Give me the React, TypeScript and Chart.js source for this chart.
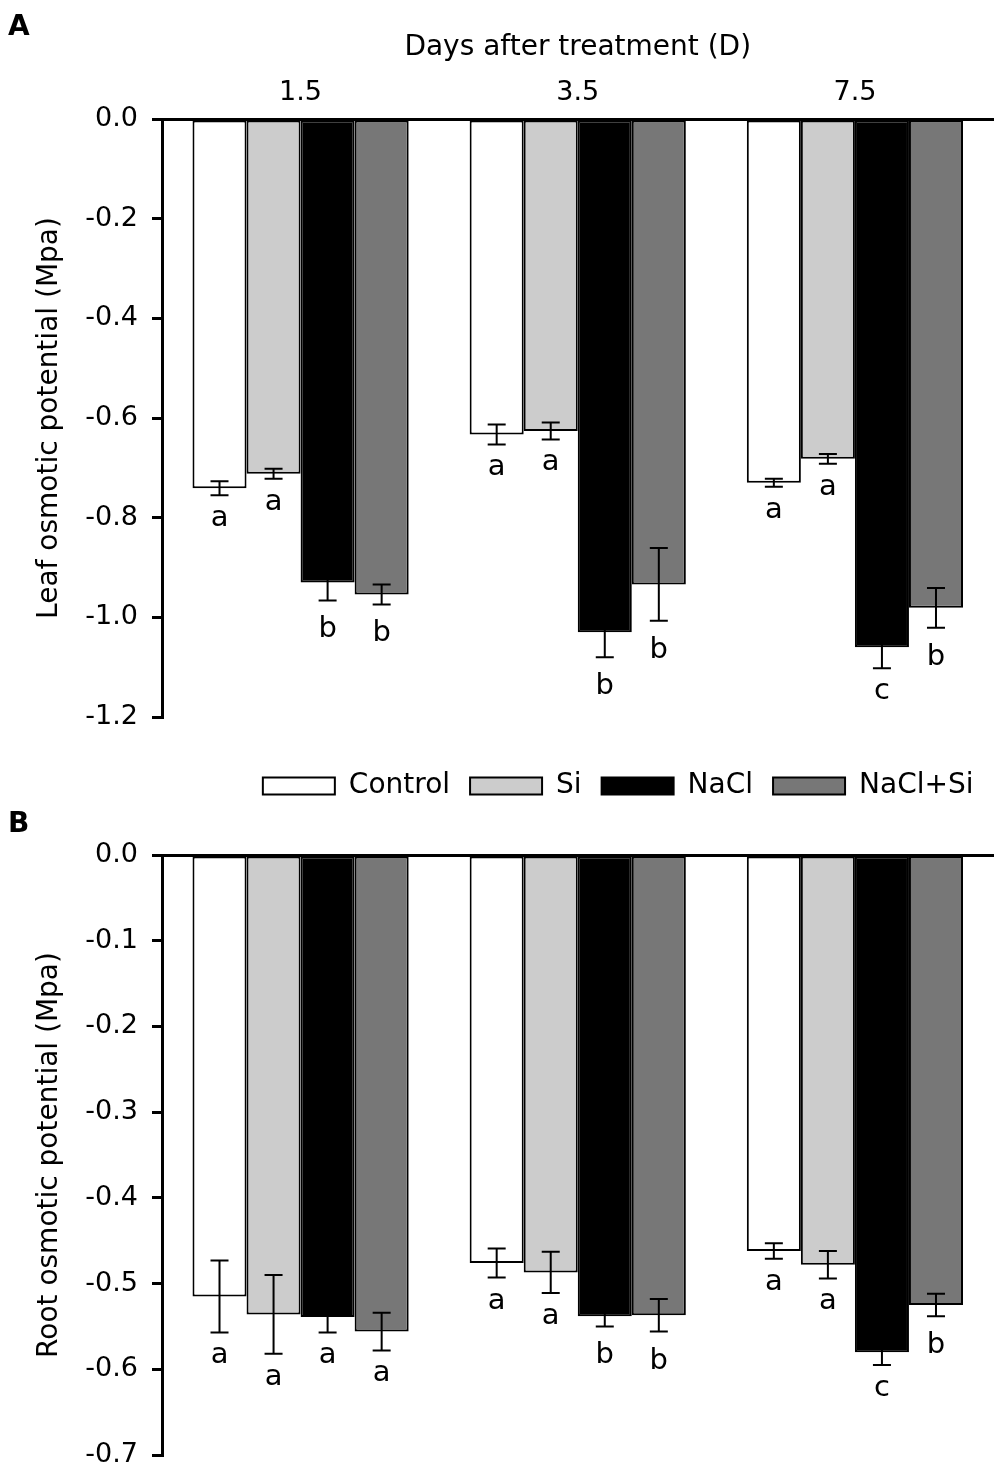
import React, { useEffect, useRef } from "react";
import { Chart, registerables } from "chart.js";

Chart.register(...registerables);

const days = ["1.5", "3.5", "7.5"];
const treatments = ["Control", "Si", "NaCl", "NaCl+Si"];
const fills = ["#ffffff", "#cccccc", "#000000", "#777777"];

// panel A - leaf osmotic potential (MPa)
const leafControl = [-0.741, -0.633, -0.73];
const leafSi = [-0.712, -0.626, -0.682];
const leafNaCl = [-0.93, -1.03, -1.06];
const leafNaClSi = [-0.954, -0.934, -0.981];
const leafControlErr = [0.014, 0.02, 0.008];
const leafSiErr = [0.01, 0.017, 0.01];
const leafNaClErr = [0.036, 0.05, 0.042];
const leafNaClSiErr = [0.02, 0.073, 0.04];
const leafControlSig = ["a", "a", "a"];
const leafSiSig = ["a", "a", "a"];
const leafNaClSig = ["b", "b", "c"];
const leafNaClSiSig = ["b", "b", "b"];

// panel B - root osmotic potential (MPa)
const rootControl = [-0.515, -0.476, -0.462];
const rootSi = [-0.536, -0.487, -0.478];
const rootNaCl = [-0.539, -0.538, -0.58];
const rootNaClSi = [-0.556, -0.537, -0.525];
const rootControlErr = [0.042, 0.017, 0.009];
const rootSiErr = [0.046, 0.024, 0.016];
const rootNaClErr = [0.018, 0.012, 0.015];
const rootNaClSiErr = [0.022, 0.019, 0.013];
const rootControlSig = ["a", "a", "a"];
const rootSiSig = ["a", "a", "a"];
const rootNaClSig = ["a", "b", "c"];
const rootNaClSiSig = ["a", "b", "b"];

const leafTicks = [0, -0.2, -0.4, -0.6, -0.8, -1.0, -1.2];
const rootTicks = [0, -0.1, -0.2, -0.3, -0.4, -0.5, -0.6, -0.7];

const FONT = "'DejaVu Sans', sans-serif";

const errorPlugin = (errors: number[][], letters: string[][]) => ({
  id: "errorLetters",
  afterDatasetsDraw(chart: any) {
    const ctx = chart.ctx;
    const yScale = chart.scales.y;
    ctx.save();
    ctx.strokeStyle = "#000";
    ctx.fillStyle = "#000";
    ctx.lineWidth = 2;
    ctx.font = `29px ${FONT}`;
    ctx.textAlign = "center";
    ctx.textBaseline = "alphabetic";
    chart.data.datasets.forEach((ds: any, di: number) => {
      const meta = chart.getDatasetMeta(di);
      meta.data.forEach((bar: any, i: number) => {
        const v = ds.data[i] as number;
        const e = errors[di][i];
        const x = bar.x;
        const yHi = yScale.getPixelForValue(v + e);
        const yLo = yScale.getPixelForValue(v - e);
        ctx.beginPath();
        ctx.moveTo(x, yHi);
        ctx.lineTo(x, yLo);
        ctx.moveTo(x - 9, yHi);
        ctx.lineTo(x + 9, yHi);
        ctx.moveTo(x - 9, yLo);
        ctx.lineTo(x + 9, yLo);
        ctx.stroke();
        const t = letters[di][i];
        const m = ctx.measureText(t);
        ctx.fillText(t, x, yLo + 15 + m.actualBoundingBoxAscent);
      });
    });
    ctx.restore();
  },
});

const panelLabel = (text: string, baseline: number) => ({
  id: "panelLabel",
  afterDraw(chart: any) {
    const ctx = chart.ctx;
    ctx.save();
    ctx.fillStyle = "#000";
    ctx.font = `bold 28px ${FONT}`;
    ctx.textAlign = "left";
    ctx.textBaseline = "alphabetic";
    ctx.fillText(text, 8, baseline);
    ctx.restore();
  },
});

const makeDatasets = (series: number[][]) =>
  treatments.map((t, k) => ({
    label: t,
    data: series[k],
    backgroundColor: fills[k],
    borderColor: "#000",
    borderWidth: 2,
    borderSkipped: false as const,
    categoryPercentage: 0.78,
    barPercentage: 1,
  }));

const yAxis = (min: number, ticks: number[], title: string) => ({
  min,
  max: 0,
  afterBuildTicks: (s: any) => {
    s.ticks = ticks.map((v) => ({ value: v }));
  },
  afterFit: (s: any) => {
    s.width = 162;
    s.paddingTop = 0;
    s.paddingBottom = 0;
  },
  ticks: {
    color: "#000",
    font: { family: FONT, size: 27 },
    padding: 14,
    callback: (v: any) => Number(v).toFixed(1),
  },
  grid: { drawOnChartArea: false, color: "#000", lineWidth: 3, tickLength: 10 },
  border: { display: true, color: "#000", width: 3 },
  title: {
    display: true,
    text: title,
    color: "#000",
    font: { family: FONT, size: 28 },
    padding: { top: 33, bottom: 0 },
  },
});

const App: React.FC = () => {
  const leafRef = useRef<HTMLCanvasElement | null>(null);
  const rootRef = useRef<HTMLCanvasElement | null>(null);

  useEffect(() => {
    if (!leafRef.current || !rootRef.current) return;

    const leaf = new Chart(leafRef.current, {
      type: "bar",
      data: {
        labels: days,
        datasets: makeDatasets([leafControl, leafSi, leafNaCl, leafNaClSi]),
      },
      options: {
        responsive: false,
        animation: false,
        layout: { padding: { left: 0, right: 6.5, top: 0, bottom: 23 } },
        plugins: { legend: { display: false }, tooltip: { enabled: false } },
        scales: {
          x: {
            position: "top",
            afterFit: (s: any) => {
              s.height = 119;
            },
            grid: { display: false },
            border: { display: true, color: "#000", width: 3 },
            ticks: { color: "#000", font: { family: FONT, size: 27 }, padding: 2 },
            title: {
              display: true,
              text: "Days after treatment (D)",
              color: "#000",
              font: { family: FONT, size: 28 },
              padding: { top: 31, bottom: 0 },
            },
          },
          y: yAxis(-1.2, leafTicks, "Leaf osmotic potential (Mpa)"),
        } as any,
      },
      plugins: [
        errorPlugin(
          [leafControlErr, leafSiErr, leafNaClErr, leafNaClSiErr],
          [leafControlSig, leafSiSig, leafNaClSig, leafNaClSiSig]
        ),
        panelLabel("A", 34.5),
      ],
    });

    const root = new Chart(rootRef.current, {
      type: "bar",
      data: {
        labels: days,
        datasets: makeDatasets([rootControl, rootSi, rootNaCl, rootNaClSi]),
      },
      options: {
        responsive: false,
        animation: false,
        layout: { padding: { left: 0, right: 6.5, top: 12, bottom: 17 } },
        plugins: {
          legend: {
            display: true,
            position: "top",
            align: "end",
            labels: {
              boxWidth: 72,
              boxHeight: 17,
              padding: 20,
              color: "#000",
              font: { family: FONT, size: 28 },
            },
          },
          tooltip: { enabled: false },
        },
        scales: {
          x: {
            position: "top",
            afterFit: (s: any) => {
              s.height = 45;
            },
            grid: { display: false },
            border: { display: true, color: "#000", width: 3 },
            ticks: { display: false },
          },
          y: yAxis(-0.7, rootTicks, "Root osmotic potential (Mpa)"),
        } as any,
      },
      plugins: [
        errorPlugin(
          [rootControlErr, rootSiErr, rootNaClErr, rootNaClSiErr],
          [rootControlSig, rootSiSig, rootNaClSig, rootNaClSiSig]
        ),
        panelLabel("B", 92),
      ],
    });

    return () => {
      leaf.destroy();
      root.destroy();
    };
  }, []);

  return (
    <div
      style={{
        position: "absolute",
        left: 0,
        top: 0,
        width: 1000,
        height: 1472,
        overflow: "hidden",
        background: "#fff",
      }}
    >
      <canvas
        ref={leafRef}
        width={1000}
        height={740}
        style={{ position: "absolute", left: 0, top: 0, width: 1000, height: 740 }}
      ></canvas>
      <canvas
        ref={rootRef}
        width={1000}
        height={732}
        style={{ position: "absolute", left: 0, top: 740, width: 1000, height: 732 }}
      ></canvas>
    </div>
  );
};

export default App;
